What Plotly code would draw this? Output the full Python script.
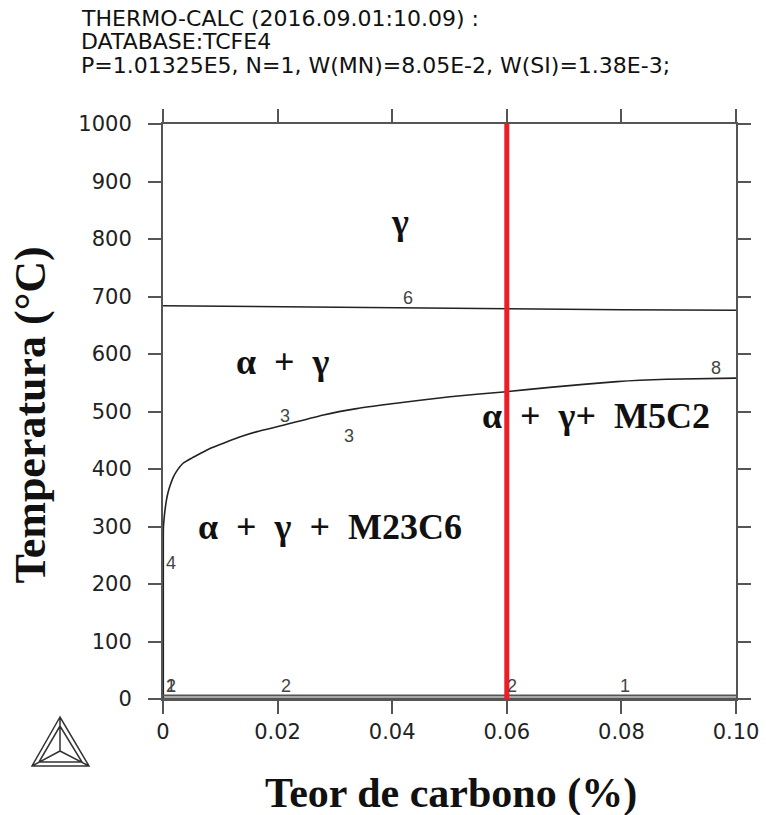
import plotly.graph_objects as go

# ---------------- data ----------------
title_lines = [
    "THERMO-CALC (2016.09.01:10.09) :",
    "DATABASE:TCFE4",
    "P=1.01325E5, N=1, W(MN)=8.05E-2, W(SI)=1.38E-3;",
]

x_ticks = [0, 0.02, 0.04, 0.06, 0.08, 0.10]
x_ticktext = ["0", "0.02", "0.04", "0.06", "0.08", "0.10"]
y_ticks = [0, 100, 200, 300, 400, 500, 600, 700, 800, 900, 1000]

# line 6: gamma / alpha+gamma boundary
line6_x = [0.0, 0.02, 0.04, 0.06, 0.08, 0.10]
line6_T = [684, 682, 680, 678.5, 677, 676]

# line 3/4/8: alpha+gamma / carbide boundary
line3_x = [0.00005, 0.00005, 0.00008, 0.0002, 0.00035, 0.0006, 0.0009, 0.0013,
           0.0018, 0.0025, 0.0035, 0.005, 0.0065, 0.0085, 0.0111, 0.0135,
           0.0164, 0.021, 0.028, 0.0338, 0.0396, 0.0501, 0.0594, 0.0675,
           0.0792, 0.0879, 0.1]
line3_T = [0, 280, 300, 315, 329, 346, 360, 373, 386, 398, 410, 419, 427, 437,
           447, 456, 465, 476, 494, 505, 513, 525.7, 534, 542, 552, 556, 558]

# lines 1/2: low-temperature boundaries
line1_x = [0.0, 0.1]
line1_T = [6, 6]
line2_x = [0.0, 0.1]
line2_T = [1, 1]

# vertical marker at 0.06 % C
marker_x = [0.06, 0.06]
marker_T = [0, 1000]

# region labels (en spaces around the plus signs)
region_text = ["γ", "α\u2002+\u2002γ", "α\u2002+\u2002γ+\u2002M5C2", "α\u2002+\u2002γ\u2002+\u2002M23C6"]
region_x = [0.0414, 0.0209, 0.0756, 0.0291]
region_T = [830, 586, 492, 299]

# line number labels
num_text = ["6", "3", "3", "8", "4", "2", "1", "2", "2", "1"]
num_x = [0.0428, 0.0213, 0.0325, 0.0965, 0.0014, 0.0014, 0.0014, 0.0215, 0.0609, 0.0806]
num_T = [697, 492, 457, 576, 236, 23, 23, 23, 23, 23]

# ---------------- figure ----------------
fig = go.Figure()

fig.add_trace(go.Scatter(x=line6_x, y=line6_T, mode="lines",
                         line=dict(color="#222222", width=1.6),
                         hoverinfo="skip", showlegend=False))
fig.add_trace(go.Scatter(x=line3_x, y=line3_T, mode="lines",
                         line=dict(color="#222222", width=1.6, shape="spline", smoothing=0.5),
                         hoverinfo="skip", showlegend=False))
fig.add_trace(go.Scatter(x=line1_x, y=line1_T, mode="lines",
                         line=dict(color="#555555", width=2),
                         hoverinfo="skip", showlegend=False))
fig.add_trace(go.Scatter(x=line2_x, y=line2_T, mode="lines",
                         line=dict(color="#555555", width=2),
                         hoverinfo="skip", showlegend=False))
fig.add_trace(go.Scatter(x=marker_x, y=marker_T, mode="lines",
                         line=dict(color="#ee1c25", width=5),
                         hoverinfo="skip", showlegend=False))

annotations = []
for t, x, y in zip(region_text, region_x, region_T):
    annotations.append(dict(x=x, y=y, xref="x", yref="y", text="<b>" + t + "</b>",
                            showarrow=False, xanchor="center", yanchor="middle",
                            font=dict(family="Liberation Serif", size=36, color="#111111")))
for t, x, y in zip(num_text, num_x, num_T):
    annotations.append(dict(x=x, y=y, xref="x", yref="y", text=t, showarrow=False,
                            xanchor="center", yanchor="middle",
                            font=dict(family="Liberation Sans", size=18, color="#444444")))

# header lines (pixel rows 19, 42, 65)
header_y = [(699 - 19) / 575, (699 - 42) / 575, (699 - 65) / 575]
for t, y in zip(title_lines, header_y):
    annotations.append(dict(x=-0.1448, y=y, xref="paper", yref="paper", text=t,
                            showarrow=False, xanchor="left", yanchor="middle",
                            borderpad=0,
                            font=dict(family="DejaVu Sans", size=22, color="#111111")))

# axis titles
annotations.append(dict(x=-0.231, y=0.494, xref="paper", yref="paper",
                        text="<b>Temperatura (°C)</b>", textangle=-90, showarrow=False,
                        xanchor="center", yanchor="middle",
                        font=dict(family="Liberation Serif", size=44, color="#111111")))
annotations.append(dict(x=0.5026, y=-0.1635, xref="paper", yref="paper",
                        text="<b>Teor de carbono (%)</b>", showarrow=False,
                        xanchor="center", yanchor="middle",
                        font=dict(family="Liberation Serif", size=42, color="#111111")))

# Thermo-Calc logo (decoration, paper coords)
def P(px, py):
    return (px - 163) / 573, (699 - py) / 575

ax_, ay_ = P(60, 717)
bx_, by_ = P(32, 766)
cx_, cy_ = P(89, 766)
mx_, my_ = P(60, 751)
ix1, iy1 = P(60, 726)
ix2, iy2 = P(39, 762)
ix3, iy3 = P(82, 762)
logo_path = (f"M {ax_},{ay_} L {bx_},{by_} L {cx_},{cy_} Z "
             f"M {ix1},{iy1} L {ix2},{iy2} L {ix3},{iy3} Z "
             f"M {ax_},{ay_} L {mx_},{my_} M {bx_},{by_} L {mx_},{my_} M {cx_},{cy_} L {mx_},{my_}")
shapes = [dict(type="path", xref="paper", yref="paper", path=logo_path,
               line=dict(color="#333333", width=1.5))]

axis_common = dict(showline=True, linecolor="#555555", linewidth=2, mirror="ticks",
                   ticks="outside", ticklen=13, tickwidth=2, tickcolor="#555555",
                   showgrid=False, zeroline=False, automargin=False,
                   tickfont=dict(family="DejaVu Sans", size=21, color="#222222"))

fig.update_layout(
    width=766, height=815,
    margin=dict(l=163, r=30, t=124, b=116),
    paper_bgcolor="white", plot_bgcolor="white",
    xaxis=dict(range=[0, 0.1], tickvals=x_ticks, ticktext=x_ticktext, **axis_common),
    yaxis=dict(range=[0, 1000], tickvals=y_ticks, ticklabelstandoff=12, **axis_common),
    annotations=annotations,
    shapes=shapes,
    showlegend=False,
)

fig.write_html("out.html")
